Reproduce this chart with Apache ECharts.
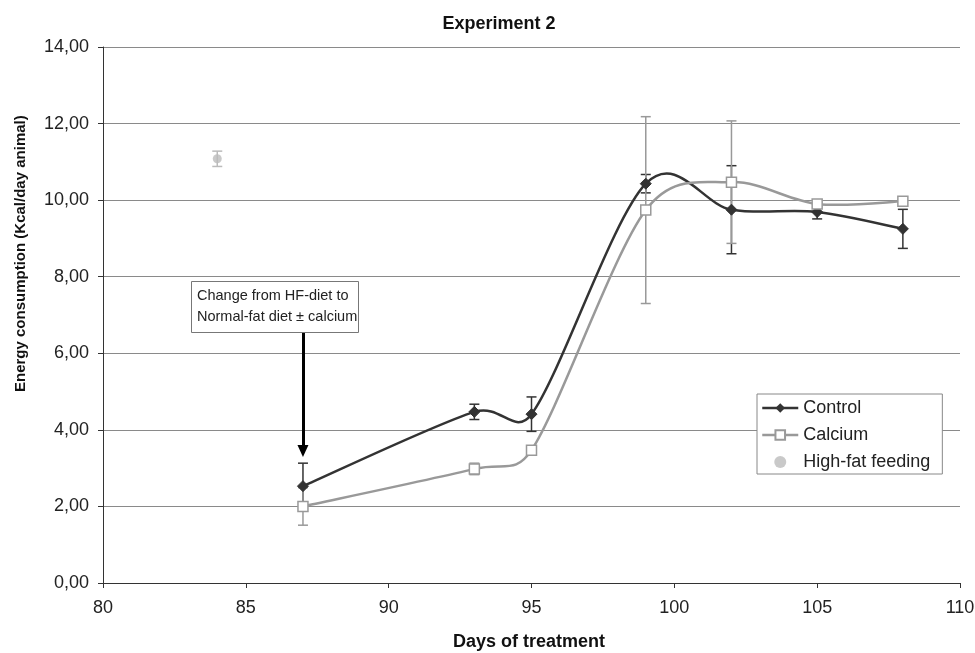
<!DOCTYPE html>
<html><head><meta charset="utf-8">
<script src="https://cdn.jsdelivr.net/npm/echarts@6/dist/echarts.min.js"></script>
<style>html,body{margin:0;padding:0;background:#fff}#c{width:975px;height:653px}</style>
</head><body><div id="c"></div>
<script>
var days = [87, 93, 95, 99, 102, 105, 108];
var controlValues = [2.53, 4.47, 4.41, 10.43, 9.75, 9.69, 9.25];
var controlErrors = [0.60, 0.20, 0.45, 0.24, 1.15, 0.18, 0.51];
var calciumValues = [2.00, 2.98, 3.47, 9.74, 10.47, 9.90, 9.97];
var calciumErrors = [0.49, 0.15, 0.05, 2.44, 1.60, 0.05, 0.05];
var highFatDay = [84];
var highFatValues = [11.08];
var highFatErrors = [0.20];
var yTicks = [0, 2, 4, 6, 8, 10, 12, 14];
var xTicks = [80, 85, 90, 95, 100, 105, 110];

var FONT = 'Liberation Sans, Arial, sans-serif';
function pairs(xs, ys){ return xs.map(function(x,i){ return [x, ys[i]]; }); }
function errData(xs, ys, es){ return xs.map(function(x,i){ return [x, ys[i]-es[i], ys[i]+es[i]]; }); }
function errSeries(name, xs, ys, es, color, z){
  return {
    type: 'custom', name: name + ' err', z: z, silent: true,
    data: errData(xs, ys, es),
    renderItem: function(params, api){
      var lo = api.coord([api.value(0), api.value(1)]);
      var hi = api.coord([api.value(0), api.value(2)]);
      var w = 5;
      var st = {stroke: color, lineWidth: 1.5};
      return {type:'group', children:[
        {type:'line', shape:{x1:lo[0],y1:lo[1],x2:hi[0],y2:hi[1]}, style:st},
        {type:'line', shape:{x1:lo[0]-w,y1:lo[1],x2:lo[0]+w,y2:lo[1]}, style:st},
        {type:'line', shape:{x1:hi[0]-w,y1:hi[1],x2:hi[0]+w,y2:hi[1]}, style:st}
      ]};
    },
    encode: {x: 0, y: [1, 2]}
  };
}
// Excel-like smoothed line: Bezier segments, tangent (P[i+1]-P[i-1])/6, capped at half the segment length
function curveSeries(name, xs, ys, color, z){
  var n = xs.length;
  return {
    type: 'custom', name: name + ' curve', z: z, silent: true,
    data: pairs(xs, ys).slice(0, n - 1),
    renderItem: function(params, api){
      var i = params.dataIndex;
      function P(j){ j = Math.max(0, Math.min(n - 1, j)); return api.coord([xs[j], ys[j]]); }
      var p0 = P(i - 1), p1 = P(i), p2 = P(i + 1), p3 = P(i + 2);
      var seg = Math.hypot(p2[0] - p1[0], p2[1] - p1[1]);
      function tan(a, b){
        var vx = (b[0] - a[0]) / 6, vy = (b[1] - a[1]) / 6;
        var len = Math.hypot(vx, vy), cap = seg / 2;
        if (len > cap && len > 0) { vx *= cap / len; vy *= cap / len; }
        return [vx, vy];
      }
      var t1 = tan(p0, p2), t2 = tan(p1, p3);
      return {
        type: 'bezierCurve',
        shape: {
          x1: p1[0], y1: p1[1], x2: p2[0], y2: p2[1],
          cpx1: p1[0] + t1[0], cpy1: p1[1] + t1[1],
          cpx2: p2[0] - t2[0], cpy2: p2[1] - t2[1]
        },
        style: {stroke: color, lineWidth: 2.5, fill: null}
      };
    },
    encode: {x: 0, y: 1}
  };
}

var chart = echarts.init(document.getElementById('c'));
chart.setOption({
  animation: false,
  backgroundColor: '#fff',
  textStyle: {fontFamily: FONT},
  grid: {left: 103, right: 15, top: 47, bottom: 70, outerBoundsMode: 'none', containLabel: false},
  title: {text: 'Experiment 2', left: 494, top: 10, textAlign: 'center',
          textStyle: {fontFamily: FONT, fontSize: 18, fontWeight: 'bold', color: '#111'}},
  legend: {
    orient: 'vertical', left: 757, top: 394,
    padding: [5, 12, 3, 4], itemGap: 9, itemWidth: 36, itemHeight: 12,
    borderColor: '#888', borderWidth: 1, backgroundColor: '#fff',
    textStyle: {fontFamily: FONT, fontSize: 18, color: '#222'},
    data: [
      {name: 'Control', lineStyle: {color: '#333', width: 2.5, opacity: 1}},
      {name: 'Calcium', lineStyle: {color: '#999', width: 2.5, opacity: 1}},
      {name: 'High-fat feeding'}
    ]
  },
  xAxis: {
    type: 'value', min: xTicks[0], max: xTicks[xTicks.length-1], interval: 5,
    axisLine: {lineStyle: {color: '#333', width: 1}},
    axisTick: {show: true, length: 5, lineStyle: {color: '#333'}},
    axisLabel: {fontFamily: FONT, fontSize: 18, color: '#222', margin: 16},
    splitLine: {show: false}
  },
  yAxis: {
    type: 'value', min: yTicks[0], max: yTicks[yTicks.length-1], interval: 2,
    axisLine: {show: true, lineStyle: {color: '#333', width: 1}},
    axisTick: {show: true, length: 5, lineStyle: {color: '#333'}},
    axisLabel: {fontFamily: FONT, fontSize: 18, color: '#222', margin: 14,
                formatter: function(v){ return v.toFixed(2).replace('.', ','); }},
    splitLine: {show: true, lineStyle: {color: '#8a8a8a', width: 1.2}}
  },
  graphic: [
    {type: 'text', x: 529, y: 633, style: {text: 'Days of treatment', fontFamily: FONT, fontSize: 18, fontWeight: 'bold', fill: '#111', align: 'center', verticalAlign: 'top'}},
    {type: 'text', x: 13, y: 392, rotation: Math.PI/2, style: {text: 'Energy consumption (Kcal/day animal)', fontFamily: FONT, fontSize: 15, fontWeight: 'bold', fill: '#111', align: 'left', verticalAlign: 'top'}},
    {type: 'rect', z: 10, shape: {x: 191.5, y: 281.5, width: 167, height: 51}, style: {fill: '#fff', stroke: '#777', lineWidth: 1}},
    {type: 'text', z: 11, x: 197, y: 285, style: {text: 'Change from HF-diet to\nNormal-fat diet \u00b1 calcium', fontFamily: FONT, fontSize: 14.5, lineHeight: 21, fill: '#222'}}
  ],
  series: [
    errSeries('Control', days, controlValues, controlErrors, '#333', 3),
    errSeries('Calcium', days, calciumValues, calciumErrors, '#999', 4),
    errSeries('High-fat', highFatDay, highFatValues, highFatErrors, '#bbb', 4),
    curveSeries('Control', days, controlValues, '#333', 5),
    curveSeries('Calcium', days, calciumValues, '#999', 5),
    {
      name: 'Control', type: 'line', z: 7,
      data: pairs(days, controlValues),
      symbol: 'diamond', symbolSize: 11,
      lineStyle: {color: '#333', width: 0, opacity: 0},
      itemStyle: {color: '#333', borderColor: '#333'},
      markLine: {
        silent: true, symbol: ['none', 'triangle'], symbolSize: [11, 12],
        label: {show: false},
        lineStyle: {color: '#000', width: 3, type: 'solid', opacity: 1},
        data: [[{coord: [87, 6.55]}, {coord: [87, 3.45]}]]
      }
    },
    {
      name: 'Calcium', type: 'line', z: 8,
      data: pairs(days, calciumValues),
      symbol: 'rect', symbolSize: 10,
      lineStyle: {color: '#999', width: 0, opacity: 0},
      itemStyle: {color: '#fff', borderColor: '#999', borderWidth: 1.5}
    },
    {
      name: 'High-fat feeding', type: 'scatter', z: 6,
      data: pairs(highFatDay, highFatValues),
      symbol: 'circle', symbolSize: 9,
      itemStyle: {color: '#bbb'}
    }
  ]
});
</script></body></html>
